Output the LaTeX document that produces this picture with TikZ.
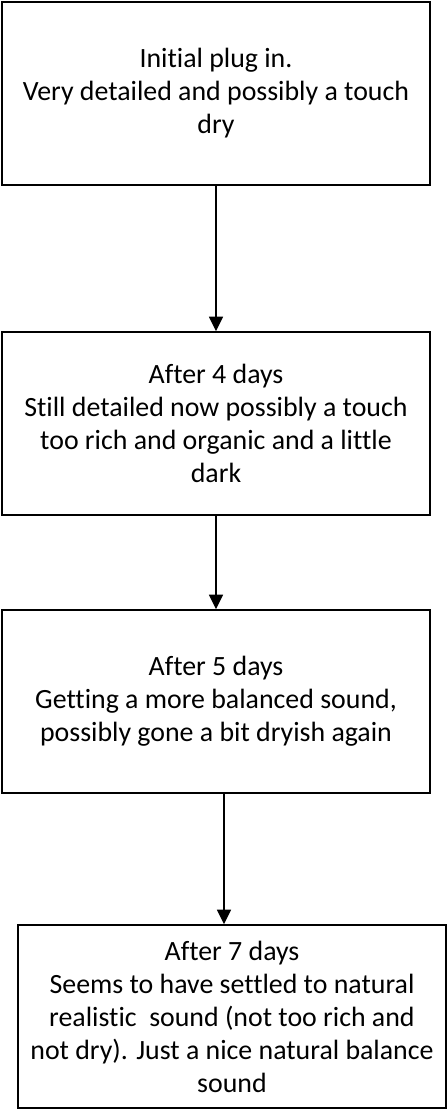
\documentclass[tikz,border=0pt]{standalone}
\usepackage{fontspec}
\setmainfont{Carlito}[Ligatures=NoCommon]
\usetikzlibrary{arrows.meta}
\begin{document}
\begin{tikzpicture}[x=0.75pt,y=-0.75pt,
    stagebox/.style={draw=black, line width=1.1pt, fill=white, minimum width=321pt, minimum height=137.25pt,
        inner sep=0pt, align=center, font=\fontsize{20.9}{24.75}\selectfont},
    flowarrow/.style={line width=1.1pt, -{Triangle[width=10.5pt,length=11pt]}}]
        \useasboundingbox (0,0) rectangle (448,1111);

        \node[stagebox] (plugin) at (216,93.5) {Initial plug in.\\Very detailed and possibly a touch\\dry};
        \node[stagebox] (dayfour) at (216,423.5) {After 4 days\\Still detailed now possibly a touch\\too rich and organic and a little\\dark};
        \node[stagebox] (dayfive) at (216,701.5) {After 5 days\\Getting a more balanced sound,\\possibly gone a bit dryish again};
        \node[stagebox] (dayseven) at (232,1016.5) {After 7 days\\Seems to have settled to natural\\realistic\ \ sound (not too rich and\\not dry). Just a nice natural balance\\sound};

        \coordinate (lastline) at (224,0);
        \draw[flowarrow] (plugin.south) -- (dayfour.north);
        \draw[flowarrow] (dayfour.south) -- (dayfive.north);
        \draw[flowarrow] (dayfive.south -| lastline) -- (dayseven.north -| lastline);
    \end{tikzpicture}
\end{document}
